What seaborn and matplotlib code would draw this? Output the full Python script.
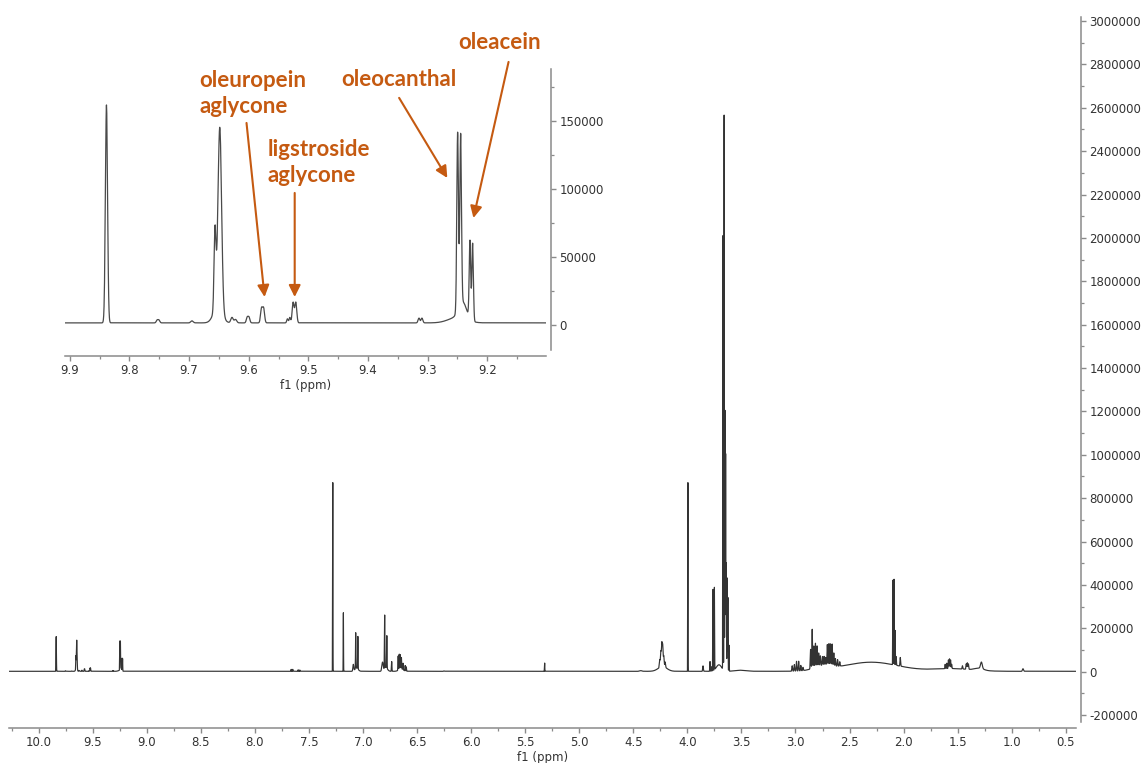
"""1H NMR spectrum of an olive oil extract with an inset of the aldehyde region."""

import matplotlib

matplotlib.use("Agg")
import matplotlib.pyplot as plt
import numpy as np
import pandas as pd
import seaborn as sns
from matplotlib.ticker import FormatStrFormatter, MultipleLocator


# aldehyde region (shown in the inset): position (ppm), height, gaussian width (ppm)
ALDEHYDE_PPM = [9.8385, 9.7535, 9.7505, 9.695, 9.6565, 9.6485, 9.652, 9.628, 9.622,
                9.6025, 9.5995, 9.5785, 9.5750, 9.535, 9.531, 9.5255, 9.5210,
                9.3145, 9.3095, 9.2497, 9.2446, 9.241, 9.250, 9.2290, 9.2245]
ALDEHYDE_HEIGHT = [160000, 2000, 2000, 1500, 58000, 133000, 12000, 4000, 2500,
                   4000, 4000, 10500, 10500, 3000, 4000, 15000, 15000,
                   3500, 3500, 131000, 125000, 12000, 4000, 57000, 57000]
ALDEHYDE_WIDTH = [0.0018, 0.0015, 0.0015, 0.002, 0.0016, 0.0030, 0.007, 0.002, 0.002,
                  0.0015, 0.0015, 0.0016, 0.0016, 0.0012, 0.0012, 0.0016, 0.0016,
                  0.0015, 0.0015, 0.00138, 0.00138, 0.0065, 0.015, 0.00126, 0.00126]

# aromatic / olefinic region
AROMATIC_PPM = [7.665, 7.650, 7.600, 7.585, 7.280, 7.182, 7.090, 7.068, 7.048, 7.060,
                6.820, 6.800, 6.780, 6.790, 6.735, 6.675, 6.665, 6.655, 6.645, 6.630,
                6.610, 6.600, 6.650, 6.250, 5.320]
AROMATIC_HEIGHT = [9000, 9000, 7000, 6000, 870000, 270000, 30000, 165000, 150000, 15000,
                   40000, 245000, 150000, 18000, 45000, 65000, 70000, 65000, 52000, 30000,
                   25000, 20000, 12000, 2000, 38000]
AROMATIC_WIDTH = [0.0015, 0.0015, 0.0015, 0.0015, 0.0012, 0.0012, 0.004, 0.0018, 0.0018, 0.015,
                  0.006, 0.0018, 0.0018, 0.015, 0.002, 0.002, 0.002, 0.002, 0.002, 0.002,
                  0.002, 0.002, 0.02, 0.003, 0.0012]

# aliphatic region
ALIPHATIC_PPM = [4.430, 4.255, 4.245, 4.236, 4.228, 4.218, 4.205, 4.230,
                 3.995, 3.855, 3.790, 3.775, 3.763, 3.750, 3.708,
                 3.670, 3.660, 3.652, 3.646, 3.640, 3.632, 3.625, 3.615, 3.500,
                 3.030, 3.010, 2.990, 2.970, 2.950, 2.930,
                 2.860, 2.845, 2.830, 2.815, 2.800, 2.785, 2.770, 2.750, 2.735, 2.720,
                 2.705, 2.690, 2.675, 2.660, 2.645, 2.630, 2.610, 2.590, 2.750,
                 2.098, 2.088, 2.078, 2.068, 2.030,
                 1.615, 1.600, 1.585, 1.575, 1.565, 1.555,
                 1.455, 1.420, 1.410, 1.400, 1.280, 1.300, 0.895]
ALIPHATIC_HEIGHT = [3000, 35000, 70000, 105000, 95000, 50000, 25000, 22000,
                    870000, 25000, 45000, 20000, 375000, 380000, 30000,
                    2000000, 2560000, 1200000, 1000000, 500000, 430000, 340000, 120000, 5000,
                    25000, 30000, 45000, 45000, 25000, 15000,
                    90000, 180000, 100000, 110000, 95000, 60000, 45000, 40000, 40000, 35000,
                    95000, 100000, 100000, 100000, 60000, 35000, 30000, 20000, 20000,
                    390000, 395000, 160000, 40000, 40000,
                    20000, 25000, 40000, 45000, 40000, 20000,
                    15000, 25000, 30000, 25000, 30000, 10000, 12000]
ALIPHATIC_WIDTH = [0.01, 0.0035, 0.0035, 0.0035, 0.0035, 0.0035, 0.0035, 0.04,
                   0.0012, 0.003, 0.002, 0.002, 0.0017, 0.0017, 0.025,
                   0.0016, 0.0016, 0.0016, 0.0016, 0.0017, 0.0017, 0.0017, 0.0017, 0.05,
                   0.003, 0.003, 0.003, 0.003, 0.003, 0.003,
                   0.003, 0.003, 0.003, 0.003, 0.003, 0.003, 0.003, 0.003, 0.003, 0.003,
                   0.003, 0.003, 0.003, 0.003, 0.003, 0.003, 0.003, 0.003, 0.08,
                   0.0016, 0.0016, 0.0016, 0.002, 0.003,
                   0.0025, 0.0025, 0.0025, 0.0025, 0.0025, 0.0025,
                   0.003, 0.003, 0.003, 0.003, 0.008, 0.04, 0.005]

# broad baseline humps
HUMP_PPM = [2.30, 1.55]
HUMP_HEIGHT = [42000, 12000]
HUMP_WIDTH = [0.25, 0.18]

BASELINE = 1500

MAIN_YTICKS = list(range(-200000, 3000001, 200000))
INSET_YTICKS = [0, 50000, 100000, 150000]

LABEL_COLOR = "#c55a11"

# compound labels in the inset: text, text anchor, arrow start, arrow tip (inset data coords)
COMPOUND_LABELS = [
    ("oleuropein\naglycone", (9.6828, 169600), "left", (9.6037, 148300), (9.5734, 20500)),
    ("ligstroside\naglycone", (9.5684, 119300), "left", (9.5229, 96900), (9.5229, 20500)),
    ("oleocanthal", (9.3487, 179900), "center", (9.3478, 166700), (9.2670, 107900)),
    ("oleacein", (9.1795, 207000), "center", (9.1643, 193100), (9.2232, 78500)),
]


def build_spectrum() -> pd.DataFrame:
    ppm = np.concatenate([ALDEHYDE_PPM, AROMATIC_PPM, ALIPHATIC_PPM, HUMP_PPM])
    height = np.concatenate([ALDEHYDE_HEIGHT, AROMATIC_HEIGHT, ALIPHATIC_HEIGHT, HUMP_HEIGHT])
    width = np.concatenate([ALDEHYDE_WIDTH, AROMATIC_WIDTH, ALIPHATIC_WIDTH, HUMP_WIDTH])
    grid = np.union1d(np.arange(0.40, 10.28, 0.0002), ppm)
    intensity = np.full(grid.shape, float(BASELINE))
    for center, peak, sigma in zip(ppm, height, width):
        intensity += peak * np.exp(-0.5 * ((grid - center) / sigma) ** 2)
    return pd.DataFrame({"ppm": grid, "intensity": intensity})


def style_axis(axis, x_major, x_minor, y_minor, fmt, offsets):
    sns.despine(ax=axis, top=True, left=True, right=False, bottom=False, offset=offsets)
    for side in ("bottom", "right"):
        axis.spines[side].set_color("#8a8a8a")
        axis.spines[side].set_linewidth(1.1)
    axis.yaxis.tick_right()
    axis.xaxis.set_major_locator(MultipleLocator(x_major))
    axis.xaxis.set_minor_locator(MultipleLocator(x_minor))
    axis.yaxis.set_minor_locator(MultipleLocator(y_minor))
    axis.xaxis.set_major_formatter(FormatStrFormatter(fmt))
    axis.yaxis.set_major_formatter(FormatStrFormatter("%d"))
    axis.tick_params(which="major", length=3.8, width=1.0, color="#8a8a8a",
                     labelsize=8.5, labelcolor="#333333", pad=2.5)
    axis.tick_params(which="minor", length=2.2, width=0.9, color="#8a8a8a")
    axis.set_xlabel("f1 (ppm)", fontsize=8.5, color="#333333", labelpad=1)
    axis.set_ylabel("")
    axis.set_facecolor("none")


sns.set_style("ticks")
plt.rcParams["font.family"] = ["DejaVu Sans"]
plt.rcParams["axes.unicode_minus"] = False

spectrum = build_spectrum()

fig = plt.figure(figsize=(11.43, 7.63), dpi=100)
ax = fig.add_axes([0.0079, 0.0541, 0.9333, 0.9240])
inset = fig.add_axes([0.0569, 0.5413, 0.4208, 0.3679])

sns.lineplot(data=spectrum, x="ppm", y="intensity", ax=ax, estimator=None,
             errorbar=None, sort=True, color="#333333", linewidth=0.85)
ax.set_xlim(10.275, 0.407)
ax.set_ylim(-231000, 3020000)
ax.set_yticks(MAIN_YTICKS)
style_axis(ax, 0.5, 0.25, 100000, "%.1f", {"bottom": 4.3, "right": 3.6})

window = spectrum[(spectrum["ppm"] > 9.09) & (spectrum["ppm"] < 9.92)]
sns.lineplot(data=window, x="ppm", y="intensity", ax=inset, estimator=None,
             errorbar=None, sort=True, color="#4a4a4a", linewidth=0.9)
inset.set_xlim(9.908, 9.1015)
inset.set_ylim(-18400, 187700)
inset.set_yticks(INSET_YTICKS)
style_axis(inset, 0.1, 0.05, 25000, "%.1f", {"bottom": 4.1, "right": 3.4})

for text, text_pos, align, start, tip in COMPOUND_LABELS:
    inset.text(text_pos[0], text_pos[1], text, ha=align, va="center",
               fontsize=16, fontweight="bold", family=["Lato", "DejaVu Sans"],
               color=LABEL_COLOR, linespacing=1.3, clip_on=False)
    inset.annotate("", xy=tip, xytext=start, annotation_clip=False,
                   arrowprops=dict(arrowstyle="-|>,head_length=0.7,head_width=0.35",
                                   color=LABEL_COLOR, lw=1.5, mutation_scale=10,
                                   shrinkA=0, shrinkB=0))

fig.savefig("out.png", dpi=100)
plt.close(fig)
